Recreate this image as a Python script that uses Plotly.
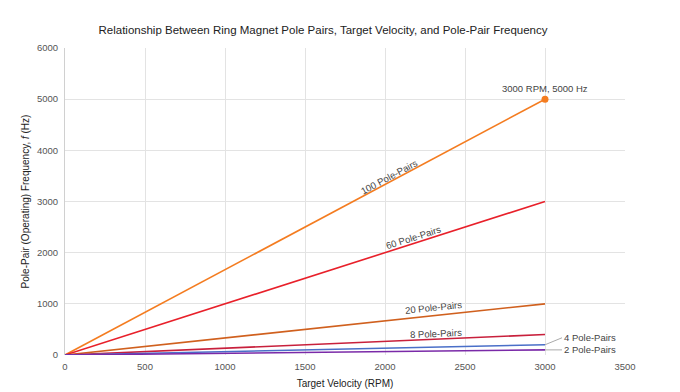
import plotly.graph_objects as go

rpm = [0, 3000]
pole_pairs = [100, 60, 20, 8, 4, 2]
freq_100 = [0, 5000]
freq_60 = [0, 3000]
freq_20 = [0, 1000]
freq_8 = [0, 400]
freq_4 = [0, 200]
freq_2 = [0, 100]
series = [freq_100, freq_60, freq_20, freq_8, freq_4, freq_2]
colors = ["#f47c20", "#e8202a", "#d0601e", "#c8203c", "#4a6fc8", "#7a2aa8"]

fig = go.Figure()
for p, ys, c in zip(pole_pairs, series, colors):
    fig.add_trace(go.Scatter(x=rpm, y=ys, mode="lines", line=dict(color=c, width=1.6),
                             name=f"{p} Pole-Pairs", showlegend=False))

fig.add_trace(go.Scatter(x=[rpm[-1]], y=[freq_100[-1]], mode="markers",
                         marker=dict(color=colors[0], size=7), showlegend=False))

fnt = dict(family="Liberation Sans, Arial, sans-serif", size=9.5, color="#444")
# inline labels
inline = [
    (2031, 3480, "100 Pole-Pairs", -28),
    (2175, 2290, "60 Pole-Pairs", -17.5),
    (2300, 920, "20 Pole-Pairs", -6),
    (2319, 430, "8 Pole-Pairs", -2.4),
]
for x, y, t, a in inline:
    fig.add_annotation(x=x, y=y, text=t, showarrow=False, textangle=a, font=fnt)

fig.add_annotation(x=3000, y=5000, text="3000 RPM, 5000 Hz", showarrow=False,
                   yshift=11, font=fnt)
fig.add_annotation(x=3000, y=200, text="4 Pole-Pairs", showarrow=True, arrowhead=0,
                   arrowcolor="#aaaaaa", arrowwidth=1, ax=17, ay=-7, xanchor="left",
                   font=fnt)
fig.add_annotation(x=3000, y=100, text="2 Pole-Pairs", showarrow=True, arrowhead=0,
                   arrowcolor="#aaaaaa", arrowwidth=1, ax=17, ay=0, xanchor="left",
                   font=fnt)

fig.update_layout(
    width=680, height=392,
    margin=dict(l=65, r=55, t=48, b=37),
    paper_bgcolor="white", plot_bgcolor="white",
    font=dict(family="Liberation Sans, Arial, sans-serif", color="#333"),
    title=dict(text="Relationship Between Ring Magnet Pole Pairs, Target Velocity, and Pole-Pair Frequency",
               x=323 / 680, xanchor="center", y=1 - 30 / 392, yanchor="middle",
               font=dict(size=11.5, color="#222")),
    xaxis=dict(range=[0, 3500], dtick=500, tick0=0, showgrid=True, gridcolor="#e3e3e3",
               zeroline=False, showline=False, ticks="", automargin=False,
               ticklabelstandoff=4,
               tickfont=dict(size=9.5, color="#555"),
               title=dict(text="Target Velocity (RPM)", font=dict(size=10, color="#222"), standoff=9)),
    yaxis=dict(range=[0, 6000], dtick=1000, tick0=0, showgrid=True, gridcolor="#e3e3e3",
               zeroline=False, showline=True, linecolor="#d0d0d0", ticks="", automargin=False,
               ticklabelstandoff=4,
               tickfont=dict(size=9.5, color="#555"),
               title=dict(text="Pole-Pair (Operating) Frequency, <i>f</i> (Hz)",
                          font=dict(size=10, color="#222"), standoff=5)),
)
fig.write_html("out.html", config={"displayModeBar": False},
               post_script="document.body.style.margin='0';")
